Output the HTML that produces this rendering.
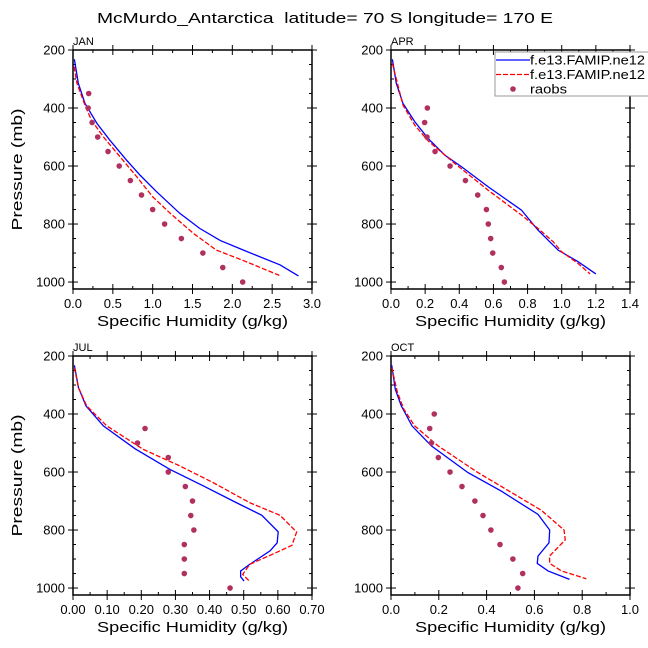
<!DOCTYPE html>
<html><head><meta charset="utf-8"><style>
html,body{margin:0;padding:0;background:#fff;}
svg{display:block;font-family:"Liberation Sans",sans-serif;}
</style></head><body>
<svg id="chart" width="648" height="648" viewBox="0 0 648 648">
<text x="97" y="23" font-size="15" fill="#000" textLength="456" lengthAdjust="spacingAndGlyphs" style="white-space:pre">McMurdo_Antarctica  latitude= 70 S longitude= 170 E</text>
</svg>
<script>
// ---- data ----
const panelNames = ["JAN","APR","JUL","OCT"];
const xMaxes = [3.0, 1.4, 0.70, 1.0];
const xTickLabelsJAN = ["0.0","0.5","1.0","1.5","2.0","2.5","3.0"];
const xTickLabelsAPR = ["0.0","0.2","0.4","0.6","0.8","1.0","1.2","1.4"];
const xTickLabelsJUL = ["0.00","0.10","0.20","0.30","0.40","0.50","0.60","0.70"];
const xTickLabelsOCT = ["0.0","0.2","0.4","0.6","0.8","1.0"];
const yTickLabels = ["200","400","600","800","1000"];

const janBlueQ = [0.017,0.067,0.15,0.3,0.46,0.67,0.84,1.05,1.34,1.59,1.85,2.14,2.6,2.83];
const janBlueP = [232,315,384,453,510,579,631,689,763,815,857,890,941,979];
const janRedQ = [0.013,0.05,0.15,0.23,0.38,0.59,0.8,1.0,1.22,1.51,1.8,2.14,2.59];
const janRedP = [257,315,390,441,499,568,637,706,763,832,890,926,977];
const janObsP = [350,400,450,500,550,600,650,700,750,800,850,900,950,1000];
const janObsQ = [0.197,0.19,0.24,0.31,0.44,0.58,0.72,0.86,1.0,1.15,1.36,1.63,1.88,2.13];

const aprBlueQ = [0.008,0.031,0.07,0.139,0.217,0.314,0.412,0.568,0.764,0.861,0.979,1.096,1.2];
const aprBlueP = [232,315,384,447,505,562,602,671,752,821,890,930,972];
const aprRedQ = [0.008,0.07,0.139,0.217,0.373,0.568,0.764,0.861,0.95,0.998,1.096,1.166];
const aprRedP = [246,390,459,513,591,683,769,815,861,895,936,972];
const aprObsP = [400,450,500,550,600,650,700,750,800,850,900,950,1000];
const aprObsQ = [0.213,0.197,0.211,0.258,0.346,0.436,0.508,0.559,0.57,0.584,0.596,0.646,0.664];

const julBlueQ = [0.004,0.016,0.038,0.089,0.182,0.284,0.382,0.479,0.553,0.601,0.598,0.577,0.518,0.491,0.491,0.501];
const julBlueP = [232,309,372,441,520,591,648,706,749,806,844,872,918,941,961,976];
const julRedQ = [0.004,0.016,0.04,0.099,0.206,0.313,0.411,0.518,0.606,0.655,0.641,0.587,0.518,0.497,0.518];
const julRedP = [240,309,372,441,522,579,637,706,749,807,853,882,918,953,978];
const julObsP = [450,500,550,600,650,700,750,800,850,900,950,1000];
const julObsQ = [0.211,0.189,0.279,0.279,0.329,0.35,0.345,0.354,0.326,0.326,0.326,0.46];

const octBlueQ = [0.003,0.018,0.043,0.088,0.169,0.322,0.462,0.615,0.664,0.661,0.615,0.612,0.657,0.747];
const octBlueP = [232,315,372,441,510,602,666,746,800,844,890,915,941,970];
const octRedQ = [0.003,0.027,0.054,0.099,0.197,0.364,0.517,0.629,0.724,0.729,0.663,0.664,0.713,0.817];
const octRedP = [240,326,384,441,510,602,677,732,800,834,890,915,941,968];
const octObsP = [400,450,500,550,600,650,700,750,800,850,900,950,1000];
const octObsQ = [0.181,0.162,0.169,0.198,0.247,0.297,0.351,0.385,0.418,0.456,0.51,0.551,0.531];

const tickLabelSets = [xTickLabelsJAN, xTickLabelsAPR, xTickLabelsJUL, xTickLabelsOCT];
const blueQ = [janBlueQ, aprBlueQ, julBlueQ, octBlueQ];
const blueP = [janBlueP, aprBlueP, julBlueP, octBlueP];
const redQ = [janRedQ, aprRedQ, julRedQ, octRedQ];
const redP = [janRedP, aprRedP, julRedP, octRedP];
const obsQ = [janObsQ, aprObsQ, julObsQ, octObsQ];
const obsP = [janObsP, aprObsP, julObsP, octObsP];

// ---- drawing ----
const NS = "http://www.w3.org/2000/svg";
const svg = document.getElementById("chart");
function mk(tag, attrs, parent) {
  const e = document.createElementNS(NS, tag);
  for (const k in attrs) e.setAttribute(k, attrs[k]);
  (parent || svg).appendChild(e);
  return e;
}
const boxes = [[73,50],[391,50],[73,356],[391,356]];
const W = 239, H = 239, P0 = 200, P1 = 1024;

panelNames.forEach((name, i) => {
  const [bx, by] = boxes[i];
  const xMax = xMaxes[i];
  const xs = q => bx + q / xMax * W;
  const ys = p => by + (p - P0) / (P1 - P0) * H;
  const g = mk("g", {});
  
  

  const frame = mk("rect", {x:bx, y:by, width:W, height:H, fill:"none", stroke:"#000", "stroke-width":1.5}, g);
  
  

  const lab = mk("text", {x:bx, y:by-5, "font-size":11, fill:"#000"}, g);
  lab.textContent = name;
  
  

  for (let p = 200; p <= 1000; p += 50) {
    const y = ys(p);
    const major = p % 200 === 0;
    const len = major ? 5 : 3;
    mk("line", {x1:bx-(major?5:0), x2:bx+len, y1:y, y2:y, stroke:"#000", "stroke-width":1}, g);
    mk("line", {x1:bx+W-len, x2:bx+W+(major?5:0), y1:y, y2:y, stroke:"#000", "stroke-width":1}, g);
  }
  yTickLabels.forEach(t => {
    const tx = mk("text", {x:bx-8, y:ys(+t)+4.5, "text-anchor":"end", "font-size":13, fill:"#000"}, g);
    tx.textContent = t;
    
    
  });
  const labels = tickLabelSets[i];
  const n = labels.length - 1;
  for (let k = 0; k <= n * 2; k++) {
    const q = xMax * k / (n * 2);
    const x = xs(q);
    const major = k % 2 === 0;
    const len = major ? 5 : 3;
    mk("line", {x1:x, x2:x, y1:by+H+(major?5:0), y2:by+H-len, stroke:"#000", "stroke-width":1}, g);
    mk("line", {x1:x, x2:x, y1:by-(major?5:0), y2:by+len, stroke:"#000", "stroke-width":1}, g);
  }
  labels.forEach(t => {
    const tx = mk("text", {x:xs(+t), y:by+H+19, "text-anchor":"middle", "font-size":13, fill:"#000"}, g);
    tx.textContent = t;
    
    
  });
  const xt = mk("text", {x:bx+24, y:by+H+37, "font-size":15, fill:"#000", textLength:191, lengthAdjust:"spacingAndGlyphs"}, g);
  xt.textContent = "Specific Humidity (g/kg)";
  
  
  if (i % 2 === 0) {
    const cy = by + H/2;
    const yt = mk("text", {x:22, y:cy, "text-anchor":"middle", "font-size":15, fill:"#000", textLength:122, lengthAdjust:"spacingAndGlyphs", transform:`rotate(-90 22 ${cy})`}, g);
    yt.textContent = "Pressure (mb)";
    
    
  }
  const bl = mk("polyline", {points: blueQ[i].map((q,j)=>xs(q)+","+ys(blueP[i][j])).join(" "), fill:"none", stroke:"#0000ff", "stroke-width":1.3}, g);
  
  
  const rl = mk("polyline", {points: redQ[i].map((q,j)=>xs(q)+","+ys(redP[i][j])).join(" "), fill:"none", stroke:"#ff0000", "stroke-width":1.3, "stroke-dasharray":"5,2"}, g);
  
  
  obsQ[i].forEach((q, j) => {
    const c = mk("circle", {cx:xs(q), cy:ys(obsP[i][j]), r:2.8, fill:"#b03060"}, g);
    
    
  });
});

const lg = mk("g", {});


mk("rect", {x:495, y:52, width:160, height:44, fill:"#fff", stroke:"#999", "stroke-width":1}, lg);
const legItems = [["f.e13.FAMIP.ne12","#0000ff","line"],["f.e13.FAMIP.ne12","#ff0000","dash"],["raobs","#b03060","dot"]];
legItems.forEach((it, k) => {
  const y = 60 + k * 14.5;
  if (it[2] === "dot") {
    const d = mk("circle", {cx:513, cy:y, r:2.8, fill:it[1]}, lg);
    
    
  } else {
    const l = mk("line", {x1:496, x2:530, y1:y, y2:y, stroke:it[1], "stroke-width":1.3, "stroke-dasharray": it[2]==="dash" ? "5,2" : "none"}, lg);
    
    
  }
  const t = mk("text", {x:530, y:y+4.5, "font-size":13, fill:"#000", textLength: it[0]==="raobs" ? 37 : 115, lengthAdjust:"spacingAndGlyphs"}, lg);
  t.textContent = it[0];
  
  
});
</script>
</body></html>
